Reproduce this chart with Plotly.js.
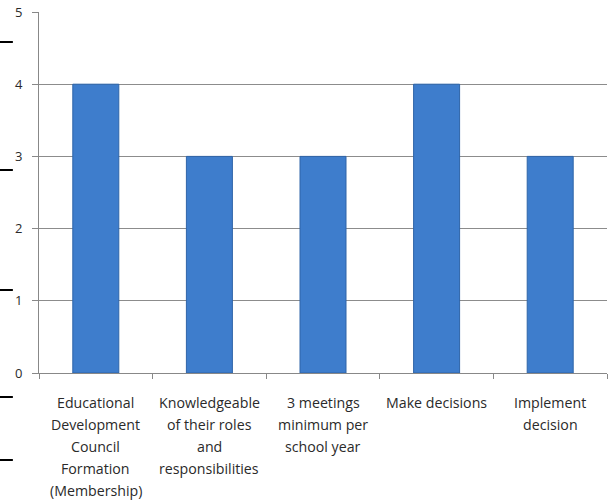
<!DOCTYPE html>
<html>
<head>
<meta charset="utf-8">
<script src="https://cdn.plot.ly/plotly-3.0.1.min.js"></script>
<style>html,body{margin:0;padding:0;background:#fff;}#chart{width:609px;height:500px;}</style>
</head>
<body>
<div id="chart"></div>
<script>
var categories = ["Educational Development Council Formation (Membership)", "Knowledgeable of their roles and responsibilities", "3 meetings minimum per school year", "Make decisions", "Implement decision"];
var values = [4, 3, 3, 4, 3];
var labelLines = [
  ["Educational", "Development", "Council", "Formation", "(Membership)"],
  ["Knowledgeable", "of their roles", "and", "responsibilities"],
  ["3 meetings", "minimum per", "school year"],
  ["Make decisions"],
  ["Implement", "decision"]
];
var yTicks = [0, 1, 2, 3, 4, 5];

var annotations = [];
labelLines.forEach(function(lines, ci) {
  lines.forEach(function(line, li) {
    annotations.push({
      x: categories[ci], xref: 'x', y: 0, yref: 'paper',
      text: line, showarrow: false, xanchor: 'center', yanchor: 'middle',
      yshift: -(29 + li * 22),
      font: {family: 'Open Sans, Liberation Sans, sans-serif', size: 14.2, color: '#2a2a2a'}
    });
  });
});

var shapes = [42, 170, 290, 397, 460].map(function(yy){
  return {type:'line', xref:'paper', yref:'paper', x0:-0.0687, x1:-0.046, y0:(373-yy)/361, y1:(373-yy)/361, line:{color:'#000', width:2}};
});

var trace = {
  type: 'bar', x: categories, y: values, width: 0.405,
  marker: {color: '#3e7dcc', line: {color: '#2e64a8', width: 1}},
  hoverinfo: 'none'
};

var layout = {
  width: 609, height: 500,
  margin: {l: 39, r: 2, t: 12, b: 127},
  paper_bgcolor: '#fff', plot_bgcolor: '#fff',
  showlegend: false,
  xaxis: {
    type: 'category', range: [-0.5, 4.5], showticklabels: false,
    tickson: 'boundaries', ticks: 'outside', ticklen: 5, tickcolor: '#888', tickwidth: 1,
    showline: true, linecolor: '#888', linewidth: 1, showgrid: false, zeroline: false
  },
  yaxis: {
    range: [0, 5], tickvals: yTicks, ticks: 'outside', ticklen: 6, tickcolor: '#888',
    ticklabelstandoff: 7,
    showline: true, linecolor: '#888', linewidth: 1,
    showgrid: true, gridcolor: '#8c8c8c', gridwidth: 1, zeroline: false,
    tickfont: {family: 'Open Sans, Liberation Sans, sans-serif', size: 13, color: '#2a2a2a'}
  },
  annotations: annotations,
  shapes: shapes
};

Plotly.newPlot('chart', [trace], layout, {displayModeBar: false, staticPlot: true});
</script>
</body>
</html>
